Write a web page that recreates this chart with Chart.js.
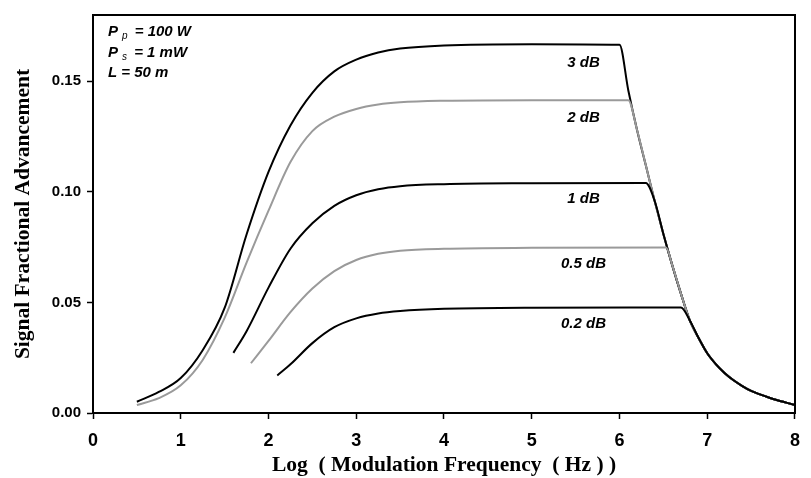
<!DOCTYPE html>
<html>
<head>
<meta charset="utf-8">
<script src="https://cdn.jsdelivr.net/npm/chart.js@4/dist/chart.umd.min.js"></script>
<style>
  html,body{margin:0;padding:0;background:#fff;}
  canvas{display:block;}
</style>
</head>
<body>
<canvas id="chart" width="811" height="478"></canvas>
<script>
// rising branch + plateau of each curve (log10 of modulation frequency vs advancement)
const freq3dB = [0.5, 0.75, 1.0, 1.25, 1.5, 1.75, 2.0, 2.25, 2.5, 2.75, 3.0, 3.25, 3.5, 4.0, 5.0, 6.0];
const adv3dB  = [0.0051, 0.0095, 0.0158, 0.0284, 0.0475, 0.0807, 0.109, 0.130, 0.1448, 0.1545, 0.1598, 0.1630, 0.1648, 0.1662, 0.1668, 0.1665];

const freq2dB = [0.5, 0.75, 1.0, 1.25, 1.5, 1.75, 2.0, 2.25, 2.5, 2.75, 3.0, 3.25, 3.5, 4.0, 5.0, 6.1];
const adv2dB  = [0.0036, 0.0067, 0.0125, 0.024, 0.043, 0.068, 0.0915, 0.1135, 0.1275, 0.1340, 0.1375, 0.1395, 0.1405, 0.1412, 0.1415, 0.1415];

const freq1dB = [1.6, 1.75, 2.0, 2.25, 2.5, 2.75, 3.0, 3.25, 3.5, 4.0, 5.0, 6.3];
const adv1dB  = [0.0272, 0.037, 0.0567, 0.0743, 0.0858, 0.0937, 0.0985, 0.1012, 0.1026, 0.1035, 0.1039, 0.104];

const freq05dB = [1.8, 2.0, 2.25, 2.5, 2.75, 3.0, 3.25, 3.5, 4.0, 5.0, 6.53];
const adv05dB  = [0.0225, 0.0326, 0.0456, 0.0563, 0.0642, 0.0692, 0.0720, 0.0734, 0.0743, 0.0747, 0.0748];

const freq02dB = [2.1, 2.25, 2.5, 2.75, 3.0, 3.25, 3.5, 4.0, 5.0, 6.7];
const adv02dB  = [0.017, 0.022, 0.0316, 0.0388, 0.0428, 0.0450, 0.0461, 0.0471, 0.0476, 0.0477];

// shared high-frequency roll-off that every curve falls onto
const tailFreq = [6.1, 6.2, 6.3, 6.4, 6.5, 6.6, 6.7, 6.8, 6.9, 7.0, 7.1, 7.2, 7.3, 7.4, 7.5, 7.6, 7.7, 7.8, 7.9, 8.0];
const tailAdv  = [0.146, 0.128, 0.112, 0.096, 0.081, 0.067, 0.054, 0.042, 0.034, 0.027, 0.022, 0.018, 0.0148, 0.0122, 0.010, 0.0084, 0.007, 0.0058, 0.0047, 0.0036];

const xTicks = [0, 1, 2, 3, 4, 5, 6, 7, 8];
const yTicks = [0, 0.05, 0.10, 0.15];

const BLACK = '#000';
const GREY = '#9a9a9a';

function curve(xs, ys, tailFrom){
  const pts = xs.map((x, i) => ({x, y: ys[i]}));
  tailFreq.forEach((x, i) => { if (x >= tailFrom - 1e-9) pts.push({x, y: tailAdv[i]}); });
  return pts;
}

const series = [
  {label:'0.2 dB', data:curve(freq02dB, adv02dB, 6.8), color:BLACK},
  {label:'0.5 dB', data:curve(freq05dB, adv05dB, 6.6), color:GREY},
  {label:'1 dB',   data:curve(freq1dB, adv1dB, 6.4),   color:BLACK},
  {label:'2 dB',   data:curve(freq2dB, adv2dB, 6.2),   color:GREY},
  {label:'3 dB',   data:curve(freq3dB, adv3dB, 6.1),   color:BLACK},
];

// curve names placed next to the plateaus
const curveLabels = [
  ['3 dB', 5.59, 0.1585],
  ['2 dB', 5.59, 0.1335],
  ['1 dB', 5.59, 0.097],
  ['0.5 dB', 5.59, 0.0675],
  ['0.2 dB', 5.59, 0.0403],
];

const ITALIC = 'italic bold 15px "Liberation Sans", Arial, sans-serif';

const extras = {
  id:'extras',
  afterDatasetsDraw(chart){
    const {ctx, chartArea:a, scales:{x, y}} = chart;
    ctx.save();
    // frame
    ctx.strokeStyle = '#000';
    ctx.lineWidth = 2;
    ctx.strokeRect(a.left, a.top, a.right - a.left, a.bottom - a.top);

    ctx.fillStyle = '#000';
    ctx.font = ITALIC;
    ctx.textAlign = 'center';
    ctx.textBaseline = 'middle';
    curveLabels.forEach(([t, vx, vy]) => ctx.fillText(t, x.getPixelForValue(vx), y.getPixelForValue(vy)));

    // parameter block
    ctx.textAlign = 'left';
    const lx = 108;
    const sub = (main, s, rest, yy) => {
      ctx.font = ITALIC;
      ctx.fillText(main, lx, yy);
      let w = ctx.measureText(main).width + 4;
      ctx.font = 'italic 10px "Liberation Sans", Arial, sans-serif';
      ctx.fillText(s, lx + w, yy + 4);
      w += ctx.measureText(s).width + 3;
      ctx.font = ITALIC;
      ctx.fillText(rest, lx + w, yy);
    };
    sub('P', 'p', ' = 100 W', 32);
    sub('P', 's', ' = 1 mW', 53);
    ctx.font = ITALIC;
    ctx.fillText('L = 50 m', lx, 73);
    ctx.restore();
  }
};

new Chart(document.getElementById('chart'), {
  type:'line',
  data:{
    datasets:series.map(s => ({
      label:s.label,
      data:s.data,
      borderColor:s.color,
      borderWidth:2,
      pointRadius:0,
      fill:false,
      cubicInterpolationMode:'monotone'
    }))
  },
  options:{
    responsive:false,
    animation:false,
    devicePixelRatio:1,
    layout:{padding:{top:14, right:14, left:0, bottom:0}},
    plugins:{legend:{display:false}, tooltip:{enabled:false}},
    scales:{
      x:{
        type:'linear', min:0, max:8,
        afterFit:s => { s.height = 65; },
        afterBuildTicks:s => { s.ticks = xTicks.map(v => ({value:v})); },
        border:{display:true, color:'#000', width:2},
        grid:{display:true, drawOnChartArea:false, drawTicks:true, tickLength:6, tickColor:'#000', tickWidth:1.5},
        ticks:{color:'#000', padding:11, maxRotation:0,
          font:{family:'"Liberation Sans Narrow", "Liberation Sans", Arial, sans-serif', size:18, weight:'bold'}},
        title:{display:true, text:'Log  ( Modulation Frequency  ( Hz ) )', color:'#000',
          font:{family:'"Liberation Serif", "Times New Roman", serif', size:21.5, weight:'bold'}, padding:{top:0, bottom:0}}
      },
      y:{
        type:'linear', min:0, max:0.18,
        afterFit:s => { s.width = 93; },
        afterBuildTicks:s => { s.ticks = yTicks.map(v => ({value:v})); },
        border:{display:true, color:'#000', width:2},
        grid:{display:true, drawOnChartArea:false, drawTicks:true, tickLength:6, tickColor:'#000', tickWidth:1.5},
        ticks:{color:'#000', padding:6, callback:v => v.toFixed(2),
          font:{family:'"Liberation Sans", Arial, sans-serif', size:15, weight:'bold'}},
        title:{display:true, text:'Signal Fractional Advancement', color:'#000',
          font:{family:'"Liberation Serif", "Times New Roman", serif', size:21.5, weight:'bold'}, padding:{top:11, bottom:0}}
      }
    }
  },
  plugins:[extras]
});
</script>
</body>
</html>
